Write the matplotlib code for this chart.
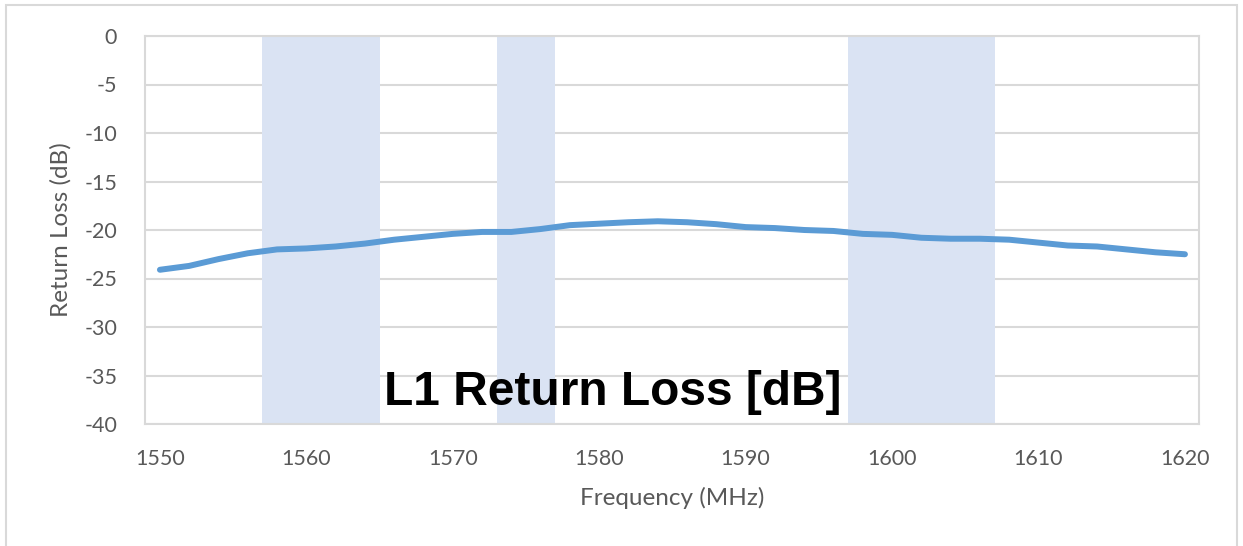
import matplotlib.pyplot as plt
from matplotlib.patches import Rectangle

# data
freq = [1550, 1552, 1554, 1556, 1558, 1560, 1562, 1564, 1566, 1568, 1570,
        1572, 1574, 1576, 1578, 1580, 1582, 1584, 1586, 1588, 1590, 1592,
        1594, 1596, 1598, 1600, 1602, 1604, 1606, 1608, 1610, 1612, 1614,
        1616, 1618, 1620]
return_loss = [-24.1, -23.7, -23.0, -22.4, -22.0, -21.9, -21.7, -21.4, -21.0,
               -20.7, -20.4, -20.2, -20.2, -19.9, -19.5, -19.35, -19.2, -19.1,
               -19.2, -19.4, -19.7, -19.8, -20.0, -20.1, -20.4, -20.5, -20.8,
               -20.9, -20.9, -21.0, -21.3, -21.6, -21.7, -22.0, -22.3, -22.5]
bands = [(1557, 1565), (1573, 1577), (1597, 1607)]
x_ticks = [1550, 1560, 1570, 1580, 1590, 1600, 1610, 1620]
y_ticks = [0, -5, -10, -15, -20, -25, -30, -35, -40]

plt.rcParams['axes.unicode_minus'] = False
gray_text = '#595959'
grid_col = '#D9D9D9'

fig = plt.figure(figsize=(12.43, 5.46), dpi=100)
ax = fig.add_axes([145 / 1243, 1 - 424 / 546, (1199 - 145) / 1243, (424 - 36) / 546])

for lo, hi in bands:
    ax.axvspan(lo, hi, color='#DAE3F3', lw=0, zorder=1)

ax.plot(freq, return_loss, color='#5B9BD5', lw=4.3, solid_capstyle='round', zorder=3)

ax.set_xlim(1548.98, 1620.96)
ax.set_ylim(-40, 0)
ax.set_xticks(x_ticks)
ax.set_yticks(y_ticks)
ax.yaxis.grid(True, color=grid_col, lw=1.5, zorder=0)
ax.set_axisbelow(True)
for s in ax.spines.values():
    s.set_color(grid_col)
    s.set_linewidth(1.5)
ax.tick_params(length=0, labelsize=15.5, labelcolor=gray_text)
ax.tick_params(axis='x', pad=18)
ax.tick_params(axis='y', pad=20)
for lab in ax.get_xticklabels() + ax.get_yticklabels():
    lab.set_family('Lato')

ax.set_xlabel('Frequency (MHz)', fontsize=17.5, color=gray_text, family='Lato', labelpad=13)
ax.set_ylabel('Return Loss (dB)', fontsize=17.5, color=gray_text, family='Lato', labelpad=9)

ax.text(1580.9, -38.0, 'L1 Return Loss [dB]', ha='center', va='baseline',
        fontsize=34.5, fontweight='bold', family='Liberation Sans', color='black', zorder=4)

# outer chart border
fig.patches.append(Rectangle((6 / 1243, -0.05), (1237 - 6) / 1243, 1.05 - 5 / 546,
                             transform=fig.transFigure, fill=False,
                             edgecolor=grid_col, lw=1.5))

fig.savefig('out.png', dpi=100)
